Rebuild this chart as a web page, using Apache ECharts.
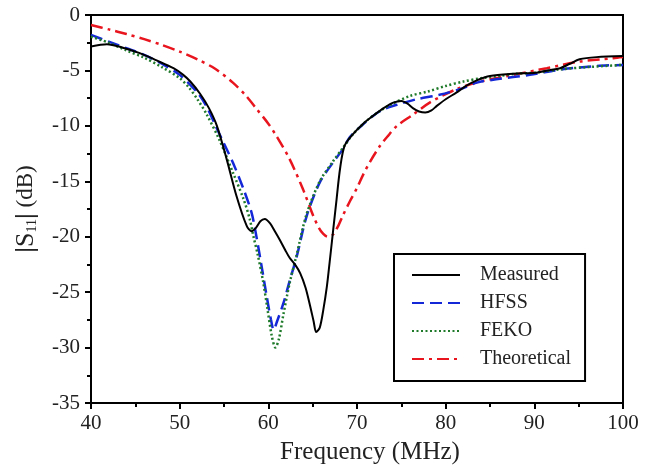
<!DOCTYPE html>
<html>
<head>
<meta charset="utf-8">
<script src="https://cdn.jsdelivr.net/npm/echarts@6/dist/echarts.min.js"></script>
<style>html,body{margin:0;padding:0;background:#fff}#c{width:658px;height:470px}</style>
</head>
<body>
<div id="c"></div>
<script>
const xTicks = [40, 50, 60, 70, 80, 90, 100];
const yTicks = [0, -5, -10, -15, -20, -25, -30, -35];

const measuredFreq = [40,41.8,43.6,45.5,47.4,49.3,50.4,51.2,52.3,53.3,54.2,55.3,56.4,57.55,58.1,58.6,59.1,59.6,60.2,60.8,61.3,61.9,62.4,63,63.6,64.2,64.7,65.1,65.4,65.8,66.2,66.6,66.9,67.3,67.7,68.1,68.6,69.6,70.7,71.8,73,74.1,75,75.7,76.3,77,77.7,78.4,79,80,81.2,82.3,83.5,85,87.6,90.2,91.5,92.9,94,95.1,97,100];
const measuredDb = [-2.84,-2.63,-2.95,-3.44,-4.1,-4.8,-5.4,-6.0,-7.1,-8.4,-10.0,-13.0,-16.3,-19.0,-19.5,-19.2,-18.6,-18.4,-18.8,-19.6,-20.3,-21.2,-21.9,-22.5,-23.3,-24.6,-26.2,-27.6,-28.6,-28.2,-26.6,-24.5,-22.4,-19.5,-16.6,-13.8,-11.8,-10.7,-9.8,-9.1,-8.4,-7.9,-7.75,-8.0,-8.4,-8.7,-8.8,-8.6,-8.2,-7.6,-7.0,-6.4,-5.9,-5.5,-5.3,-5.2,-5.0,-4.8,-4.4,-4.0,-3.8,-3.7];

const hfssFreq = [40,42,44,46,48,50,52,53,54,55,56,57.2,58.1,58.5,59.1,59.8,60.3,60.6,61,61.7,62.4,63.2,64.3,65.8,67.3,68.4,69.2,70.5,71.8,73,74.5,76.7,79.3,82,83.5,85.7,89.5,93.2,97,100];
const hfssDb = [-1.8,-2.4,-3.0,-3.6,-4.4,-5.4,-7.0,-8.2,-9.9,-11.6,-13.3,-15.7,-17.8,-19.3,-22.0,-25.3,-27.5,-28.4,-27.6,-26.0,-24.0,-21.8,-18.2,-15.1,-13.3,-12.1,-11.0,-10.0,-9.1,-8.5,-8.1,-7.6,-7.2,-6.6,-6.1,-5.8,-5.4,-4.9,-4.6,-4.5];

const fekoFreq = [40,42,44,46,48,50,51,52,53,54.5,56,57.2,57.9,58.3,58.8,59.4,59.9,60.4,60.8,61.2,61.7,62.4,63.2,64.3,65.8,67.3,68.4,69.5,71,72.5,74,76,78,80,82,84,86,88,90,93,96,100];
const fekoDb = [-1.95,-2.5,-3.2,-3.85,-4.7,-5.7,-6.5,-7.6,-8.9,-11.3,-14.2,-16.6,-18.4,-19.9,-21.6,-24.0,-26.5,-29.0,-30.0,-29.2,-27.0,-24.2,-21.6,-18.0,-15.0,-13.2,-12.0,-10.8,-9.6,-8.7,-8.0,-7.3,-6.9,-6.4,-6.0,-5.7,-5.5,-5.3,-5.2,-4.9,-4.7,-4.5];

const theoFreq = [40,42,44,46,48,50,52,54,56,57.5,58.7,60,60.9,62.4,63.9,65.06,65.7,66.2,66.7,67.3,67.9,68.4,69.2,70,70.7,71.5,72.6,73.5,74.5,76.3,78.2,81.2,83.9,87.6,91.4,95.1,98.9,100];
const theoDb = [-0.9,-1.3,-1.72,-2.18,-2.7,-3.3,-4.0,-4.85,-6.1,-7.3,-8.5,-9.8,-10.9,-13.0,-15.7,-18.1,-19.2,-19.75,-20.0,-19.8,-19.0,-18.1,-16.8,-15.6,-14.4,-13.2,-11.8,-10.9,-10.0,-9.0,-7.9,-6.7,-6.0,-5.4,-4.8,-4.2,-3.9,-3.8];

const seriesNames = ['Measured', 'HFSS', 'FEKO', 'Theoretical'];

function pairs(xs, ys) { return xs.map((x, i) => [x, ys[i]]); }

const FONT = 'Liberation Serif';
const chart = echarts.init(document.getElementById('c'), null, {renderer: 'canvas'});

const axisCommon = {
  axisLine: {show: true, onZero: false, lineStyle: {color: '#000', width: 2}},
  axisTick: {show: true, inside: false, length: 6, lineStyle: {color: '#000', width: 2}},
  minorTick: {show: true, splitNumber: 2, length: 4, lineStyle: {color: '#000', width: 2}},
  splitLine: {show: false},
  axisLabel: {color: '#222', fontFamily: FONT, fontSize: 21}
};

chart.setOption({
  animation: false,
  backgroundColor: '#fff',
  grid: {left: 91, right: 35, top: 15, bottom: 65, show: true, borderColor: '#000', borderWidth: 2, containLabel: false},
  legend: {
    data: seriesNames,
    orient: 'vertical',
    left: 394, top: 254,
    width: 195,
    backgroundColor: '#fff',
    borderColor: '#000', borderWidth: 2,
    padding: [11, 14, 12, 17],
    itemWidth: 48, itemHeight: 14, itemGap: 8,
    itemStyle: {opacity: 0},
    textStyle: {fontFamily: FONT, fontSize: 20, color: '#222', padding: [0, 0, 0, 15]}
  },
  xAxis: Object.assign({}, axisCommon, {
    type: 'value', min: 40, max: 100, interval: 10,
    name: 'Frequency (MHz)', nameLocation: 'middle', nameGap: 37,
    nameTextStyle: {fontFamily: FONT, fontSize: 25, color: '#222', padding: [0, 0, 0, 26]},
    axisLabel: Object.assign({}, axisCommon.axisLabel, {margin: 10})
  }),
  yAxis: Object.assign({}, axisCommon, {
    type: 'value', min: -35, max: 0, interval: 5,
    name: '{bar||}{s|S}{sub|11}{bar||}{t| (dB)}', nameLocation: 'middle', nameGap: 52,
    nameTextStyle: {
      fontFamily: FONT, color: '#222', fontSize: 22,
      rich: {
        bar: {fontFamily: FONT, fontSize: 26, fontWeight: 'bold', color: '#222'},
        s: {fontFamily: FONT, fontSize: 26, color: '#222'},
        sub: {fontFamily: FONT, fontSize: 14, color: '#222', padding: [12, 0, 0, 0]},
        t: {fontFamily: FONT, fontSize: 23, color: '#222'}
      }
    },
    axisLabel: Object.assign({}, axisCommon.axisLabel, {margin: 11})
  }),
  series: [
    {name: 'Measured', type: 'line', data: pairs(measuredFreq, measuredDb), smooth: 0.3, symbol: 'none',
     lineStyle: {color: '#000', width: 2}, itemStyle: {color: '#000'}, z: 5},
    {name: 'HFSS', type: 'line', data: pairs(hfssFreq, hfssDb), smooth: 0.3, symbol: 'none',
     lineStyle: {color: '#1428d8', width: 2.5, type: [12, 6]}, itemStyle: {color: '#1428d8'}, z: 3},
    {name: 'FEKO', type: 'line', data: pairs(fekoFreq, fekoDb), smooth: 0.3, symbol: 'none',
     lineStyle: {color: '#1f7a2a', width: 2.5, type: [2, 2.5]}, itemStyle: {color: '#1f7a2a'}, z: 4},
    {name: 'Theoretical', type: 'line', data: pairs(theoFreq, theoDb), smooth: 0.3, symbol: 'none',
     lineStyle: {color: '#e8141e', width: 2.5, type: [12, 5, 3, 5]}, itemStyle: {color: '#e8141e'}, z: 2}
  ]
});
</script>
</body>
</html>
